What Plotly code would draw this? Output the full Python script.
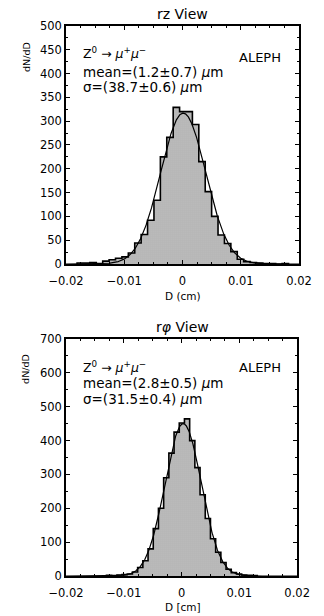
import numpy as np
import plotly.graph_objects as go

# ---- rz view: impact parameter histogram (bins of 11 um) ----
rz_left_edges = [-0.0181, -0.0170, -0.0159, -0.0148, -0.0137, -0.0126, -0.0115, -0.0104,
                 -0.0093, -0.0082, -0.0071, -0.0060, -0.0049, -0.0038, -0.0027, -0.0016,
                 -0.0005, 0.0006, 0.0017, 0.0028, 0.0039, 0.0050, 0.0061, 0.0072,
                 0.0083, 0.0094, 0.0105, 0.0116, 0.0127, 0.0138, 0.0149, 0.0160, 0.0171]
rz_counts = [2, 2, 3, 1, 6, 9, 12, 15,
             23, 44, 62, 92, 134, 225, 266, 329,
             320, 320, 293, 215, 152, 100, 61, 43,
             26, 10, 5, 3, 2, 1, 1, 0, 1]
rz_bin_width = 0.0011
rz_mean_um, rz_sigma_um, rz_peak = 1.2, 38.7, 317

# ---- r-phi view: impact parameter histogram (bins of 9 um) ----
rp_left_edges = [-0.0130, -0.0121, -0.0112, -0.0103, -0.0094, -0.0085, -0.0076, -0.0067,
                 -0.0058, -0.0049, -0.0040, -0.0031, -0.0022, -0.0013, -0.0004, 0.0005,
                 0.0014, 0.0023, 0.0032, 0.0041, 0.0050, 0.0059, 0.0068, 0.0077,
                 0.0086, 0.0095, 0.0104, 0.0113, 0.0122]
rp_counts = [2, 1, 3, 4, 6, 12, 25, 45,
             80, 140, 200, 290, 363, 425, 452, 464,
             400, 320, 240, 170, 110, 70, 40, 20,
             10, 6, 3, 2, 1]
rp_bin_width = 0.0009
rp_mean_um, rp_sigma_um, rp_peak = 2.8, 31.5, 450

x_ticks = [-0.02, -0.01, 0, 0.01, 0.02]
x_tick_text = ["\u22120.02", "\u22120.01", "0", "0.01", "0.02"]

FONT = "DejaVu Sans"
# fine stipple for the histogram fill
fill_pattern = dict(shape=".", size=2, solidity=0.4,
                    fgcolor="#7c7c7c", bgcolor="#dedede", fillmode="replace")


def step_outline(edges, counts, width):
    xs = [edges[0]] + list(edges) + [edges[-1] + width]
    ys = [0] + list(counts) + [0]
    return xs, ys


def gauss(xs, mean_um, sigma_um, peak):
    d_um = xs * 1e4
    return peak * np.exp(-0.5 * ((d_um - mean_um) / sigma_um) ** 2)


fig = go.Figure()
xs_fit = np.linspace(-0.02, 0.02, 801)

panels = [
    (rz_left_edges, rz_counts, rz_bin_width, rz_mean_um, rz_sigma_um, rz_peak, "x", "y"),
    (rp_left_edges, rp_counts, rp_bin_width, rp_mean_um, rp_sigma_um, rp_peak, "x2", "y2"),
]
for edges, counts, w, mu, sg, pk, xa, ya in panels:
    centers = [e + w / 2 for e in edges]
    fig.add_trace(go.Bar(x=centers, y=counts, width=w, xaxis=xa, yaxis=ya,
                         marker=dict(color="#dedede", pattern=fill_pattern,
                                     line=dict(width=0)),
                         showlegend=False, hoverinfo="skip"))
    sx, sy = step_outline(edges, counts, w)
    fig.add_trace(go.Scatter(x=sx, y=sy, mode="lines", line_shape="hv",
                             line=dict(color="black", width=1.6),
                             xaxis=xa, yaxis=ya, showlegend=False, hoverinfo="skip"))
    fig.add_trace(go.Scatter(x=xs_fit, y=gauss(xs_fit, mu, sg, pk), mode="lines",
                             line=dict(color="black", width=1.2),
                             xaxis=xa, yaxis=ya, showlegend=False, hoverinfo="skip"))

axis_common = dict(showline=True, linecolor="black", linewidth=1.5, mirror="ticks",
                   ticks="inside", ticklen=4, tickwidth=1, tickcolor="black",
                   showgrid=False, zeroline=False,
                   tickfont=dict(family=FONT, size=11.5, color="black"))
x_common = dict(axis_common, range=[-0.02, 0.02], tickvals=x_ticks, ticktext=x_tick_text,
                ticklabelstandoff=5,
                minor=dict(ticks="inside", ticklen=2.5, dtick=0.0025, tickcolor="black"))

fig.update_layout(
    width=324, height=616,
    margin=dict(l=66, r=14, t=26, b=40),
    plot_bgcolor="white", paper_bgcolor="white", bargap=0,
    xaxis=dict(x_common, domain=[0, 1], anchor="y"),
    yaxis=dict(axis_common, domain=[0.5673, 1], range=[0, 500], dtick=50, anchor="x",
               minor=dict(ticks="inside", ticklen=2.5, dtick=25, tickcolor="black")),
    xaxis2=dict(x_common, domain=[0, 0.992], anchor="y2"),
    yaxis2=dict(axis_common, domain=[0, 0.4309], range=[0, 700], dtick=100, anchor="x2",
                minor=dict(ticks="inside", ticklen=2.5, dtick=50, tickcolor="black")),
    font=dict(family=FONT, color="black"),
)

ann = []


def text(x, y, s, size=12, **kw):
    d = dict(x=x, y=y, xref="paper", yref="paper", text=s, showarrow=False,
             font=dict(family=FONT, size=size, color="black"),
             xanchor=kw.pop("xanchor", "left"), yanchor=kw.pop("yanchor", "middle"))
    d.update(kw)
    ann.append(d)


# panel titles
text(0.5, 1.022, "rz View", size=14, xanchor="center")
text(0.5, 0.4527, "r<i>\u03c6</i> View", size=14, xanchor="center")
# axis titles
text(-0.172, 0.9436, "dN/dD", size=9.5, xanchor="center", textangle=-90)
text(-0.172, 0.3764, "dN/dD", size=9.5, xanchor="center", textangle=-90)
text(0.5, 0.509, "D (cm)", size=10.5, xanchor="center")
text(0.5, -0.0564, "D [cm]", size=10.5, xanchor="center")
# physics labels
proc = "Z<sup>0</sup> \u2192 <i>\u03bc</i><sup>+</sup><i>\u03bc</i><sup>\u2212</sup>"
text(0.0656, 0.9504, proc, size=12.5)
text(0.0656, 0.9169, "mean=(1.2\u00b10.7) <i>\u03bc</i>m", size=13.5)
text(0.0656, 0.8885, "\u03c3=(38.7\u00b10.6) <i>\u03bc</i>m", size=13.5)
text(0.7336, 0.9436, "ALEPH", size=13)
text(0.0656, 0.3805, proc, size=12.5)
text(0.0656, 0.3504, "mean=(2.8\u00b10.5) <i>\u03bc</i>m", size=13.5)
text(0.0656, 0.3218, "\u03c3=(31.5\u00b10.4) <i>\u03bc</i>m", size=13.5)
text(0.7336, 0.3782, "ALEPH", size=13)

fig.update_layout(annotations=ann)
fig.write_html("out.html")
